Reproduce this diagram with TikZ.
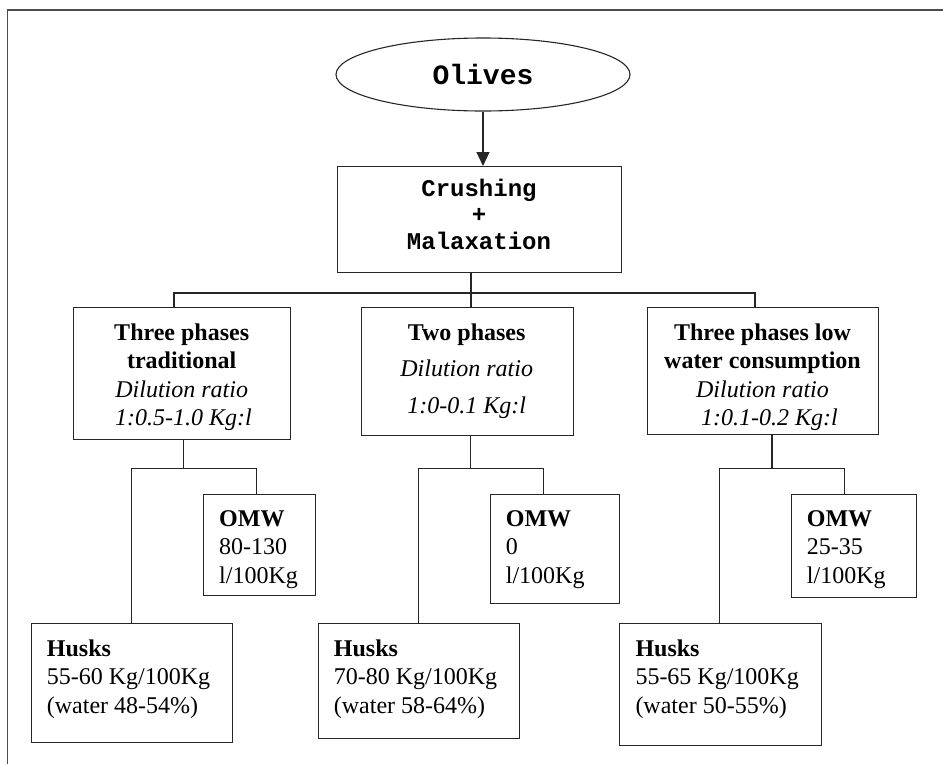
\documentclass[tikz,border=0pt]{standalone}
\usepackage{fontspec}
\setmainfont{Liberation Serif}
\newfontfamily\courfont{Liberation Mono}
\usetikzlibrary{arrows.meta,shapes.geometric}
\begin{document}
\begin{tikzpicture}[x=1pt,y=-1pt,
  box/.style={draw=black!85, line width=1.1pt, inner sep=0pt, anchor=north west},
  conn/.style={draw=black!85, line width=1.1pt},
  frameline/.style={draw=black!70, line width=1.8pt},
  lbl/.style={inner sep=0pt, anchor=base, font=\fontsize{24}{28}\selectfont},
  lblw/.style={inner sep=0pt, anchor=base west, font=\fontsize{24}{28}\selectfont},
  mono/.style={inner sep=0pt, anchor=base, font=\fontsize{24}{28}\courfont\bfseries}]
\useasboundingbox (0,0) rectangle (943,764);
\draw[frameline] (7.5,764) -- (7.5,10) -- (943,10);

% top
\node[ellipse, draw=black!85, line width=1.1pt, minimum width=294pt, minimum height=73pt, inner sep=0pt] (olives) at (483,74.5) {};
\node[inner sep=0pt, anchor=base, font=\fontsize{28}{30}\courfont\bfseries] (olt) at (483,84) {Olives};
\node[box, minimum width=284pt, minimum height=106pt] (crush) at (337,166) {};
\node[mono] (cr1) at (479,196) {Crushing};
\node[mono] (cr2) at (479,222) {+};
\node[mono] (cr3) at (479,249) {Malaxation};
\draw[conn, -{Triangle[length=14pt,width=13pt]}] (olives.south) -- (olives.south |- crush.north);

% level 2 boxes
\node[box, minimum width=216.7pt, minimum height=131.7pt] (b1) at (73.3,307.3) {};
\node[box, minimum width=212pt, minimum height=128pt] (b2) at (360.7,307.3) {};
\node[box, minimum width=230.4pt, minimum height=126.7pt] (b3) at (647.3,307.3) {};

\node[lbl, font=\fontsize{24}{28}\selectfont\bfseries] (b1a) at (181.7,340) {Three phases};
\node[lbl, font=\fontsize{24}{28}\selectfont\bfseries] (b1b) at (181.7,368) {traditional};
\node[lbl, font=\fontsize{24}{28}\selectfont\itshape] (b1c) at (181.7,397) {Dilution ratio};
\node[lbl, font=\fontsize{24}{28}\selectfont\itshape] (b1d) at (183.5,425) {1:0.5-1.0 Kg:l};

\node[lbl, font=\fontsize{24}{28}\selectfont\bfseries] (b2a) at (466.7,340) {Two phases};
\node[lbl, font=\fontsize{24}{28}\selectfont\itshape] (b2b) at (466.7,376) {Dilution ratio};
\node[lbl, font=\fontsize{24}{28}\selectfont\itshape] (b2c) at (466.7,413) {1:0-0.1 Kg:l};

\node[lbl, font=\fontsize{24}{28}\selectfont\bfseries] (b3a) at (762.5,340) {Three phases low};
\node[lbl, font=\fontsize{24}{28}\selectfont\bfseries] (b3b) at (762.5,368) {water consumption};
\node[lbl, font=\fontsize{24}{28}\selectfont\itshape] (b3c) at (762.5,397) {Dilution ratio};
\node[lbl, font=\fontsize{24}{28}\selectfont\itshape] (b3d) at (769.5,425) {1:0.1-0.2 Kg:l};

% bus
\coordinate (busL) at (174,293);
\coordinate (busM) at (471,293);
\coordinate (busR) at (755,293);
\draw[conn] (busL |- b1.north) -- (busL) -- (busR) -- (busR |- b3.north);
\draw[conn] (busM |- crush.south) -- (busM |- b2.north);

% OMW boxes
\node[box, minimum width=112pt, minimum height=100.7pt] (o1) at (202.7,494.3) {};
\node[box, minimum width=129.6pt, minimum height=108.4pt] (o2) at (489.7,494.3) {};
\node[box, minimum width=125pt, minimum height=103pt] (o3) at (790.7,494.3) {};

\node[lblw, font=\fontsize{24}{28}\selectfont\bfseries] (o1a) at (219,526) {OMW};
\node[lblw] (o1b) at (219,554) {80-130};
\node[lblw] (o1c) at (219,583) {l/100Kg};
\node[lblw, font=\fontsize{24}{28}\selectfont\bfseries] (o2a) at (505.7,526) {OMW};
\node[lblw] (o2b) at (505.7,554) {0};
\node[lblw] (o2c) at (505.7,583) {l/100Kg};
\node[lblw, font=\fontsize{24}{28}\selectfont\bfseries] (o3a) at (806.7,526) {OMW};
\node[lblw] (o3b) at (806.7,554) {25-35};
\node[lblw] (o3c) at (806.7,583) {l/100Kg};

% Husks boxes
\node[box, minimum width=201.6pt, minimum height=119pt] (h1) at (30.7,623) {};
\node[box, minimum width=201.8pt, minimum height=115.3pt] (h2) at (317.5,623) {};
\node[box, minimum width=201.5pt, minimum height=122pt] (h3) at (619,623) {};

\node[lblw, font=\fontsize{24}{28}\selectfont\bfseries] (h1a) at (46.7,656) {Husks};
\node[lblw] (h1b) at (46.7,684) {55-60 Kg/100Kg};
\node[lblw] (h1c) at (46.7,713) {(water 48-54\%)};
\node[lblw, font=\fontsize{24}{28}\selectfont\bfseries] (h2a) at (333.7,656) {Husks};
\node[lblw] (h2b) at (333.7,684) {70-80 Kg/100Kg};
\node[lblw] (h2c) at (333.7,713) {(water 58-64\%)};
\node[lblw, font=\fontsize{24}{28}\selectfont\bfseries] (h3a) at (635.3,656) {Husks};
\node[lblw] (h3b) at (635.3,684) {55-65 Kg/100Kg};
\node[lblw] (h3c) at (635.3,713) {(water 50-55\%)};

% branches
\coordinate (s1) at (183.7,468.3);
\coordinate (s1L) at (131.7,468.3);
\coordinate (s1R) at (256.7,468.3);
\draw[conn] (s1 |- b1.south) -- (s1);
\draw[conn] (s1L |- h1.north) -- (s1L) -- (s1R) -- (s1R |- o1.north);

\coordinate (s2) at (470.5,468.3);
\coordinate (s2L) at (418.7,468.3);
\coordinate (s2R) at (543.3,468.3);
\draw[conn] (s2 |- b2.south) -- (s2);
\draw[conn] (s2L |- h2.north) -- (s2L) -- (s2R) -- (s2R |- o2.north);

\coordinate (s3) at (772,468.3);
\coordinate (s3L) at (719.7,468.3);
\coordinate (s3R) at (844.7,468.3);
\draw[conn] (s3 |- b3.south) -- (s3);
\draw[conn] (s3L |- h3.north) -- (s3L) -- (s3R) -- (s3R |- o3.north);
\end{tikzpicture}
\end{document}
